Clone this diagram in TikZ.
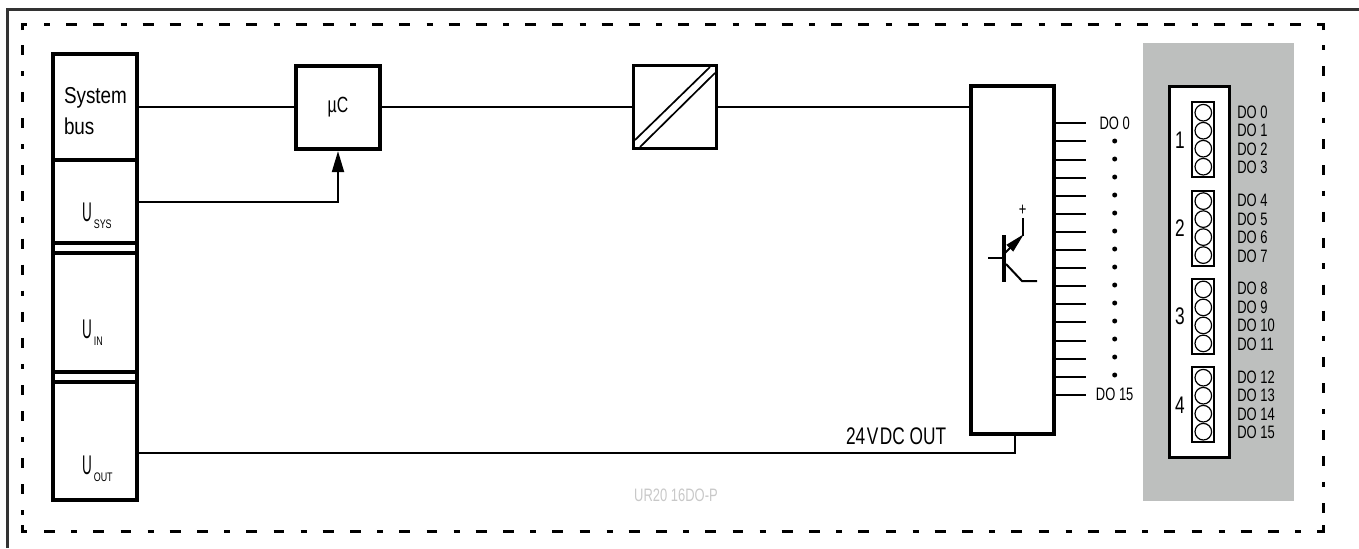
\documentclass[tikz,border=0pt]{standalone}
\usepackage{fontspec}
\setmainfont[FakeStretch=0.72]{Liberation Sans}
\newfontfamily\busfont[FakeStretch=0.82]{Liberation Sans}
\newfontfamily\voltfont[FakeStretch=0.5]{Liberation Sans}
\usetikzlibrary{arrows.meta}
\definecolor{panelgray}{HTML}{BDBFBE}
\definecolor{framegray}{HTML}{333333}
\definecolor{typegray}{HTML}{C8C8C8}
\newcommand{\supply}[1]{{\voltfont U}\raisebox{-3.7pt}{\fontsize{6.2}{6.2}\selectfont\,#1}}
\tikzset{
  block/.style={draw,line width=1.6pt,inner sep=0pt,outer sep=0pt},
  wire/.style={line width=1pt},
  outline/.style={line width=1.5pt},
  lbl/.style={inner sep=0pt,outer sep=0pt,font=\fontsize{11}{11}\selectfont},
  buslbl/.style={lbl,anchor=base west,font=\busfont\fontsize{11.5}{11.5}\selectfont},
  voltlbl/.style={lbl,anchor=base west,font=\fontsize{13.5}{13.5}\selectfont},
  small/.style={inner sep=0pt,outer sep=0pt,font=\fontsize{9}{9}\selectfont}
}
\begin{document}
\begin{tikzpicture}[x=0.5pt,y=-0.5pt,line join=miter]
\useasboundingbox (0,0) rectangle (1359,548);

% frame
\draw[line width=1.5pt,framegray] (7,548) -- (7,9) -- (1359,9);

% dashed outline
\coordinate (tl) at (22,24);
\coordinate (tr) at (1323,24);
\coordinate (bl) at (22,531);
\coordinate (br) at (1323,531);
\draw[outline,dash pattern=on 3pt off 8.1pt on 5.4pt off 8.1pt on 5.4pt off 8.25pt] (44,24) -- (tr);
\draw[outline,dash pattern=on 5.4pt off 8.1pt on 3pt off 8.1pt on 5.4pt off 8.25pt] (44,531) -- (br);
\draw[outline,dash pattern=on 5pt off 8pt on 2.6pt off 8pt on 5pt off 8pt] (22,45) -- (bl);
\draw[outline,dash pattern=on 2.6pt off 8pt on 5pt off 8pt on 5pt off 7.8pt] (1323,45) -- (br);
\draw[outline] (22,30) -- (tl) -- (27,24);
\draw[outline] (22,525) -- (bl) -- (27,531);
\draw[outline] (1323,30) -- (tr) -- (1317,24);
\draw[outline] (1323,525) -- (br) -- (1317,531);

% left column
\node[block,minimum width=42pt,minimum height=53pt] (sysbus) at (95,107) {};
\node[block,minimum width=42pt,minimum height=41.5pt] (usys) at (95,201.5) {};
\node[block,minimum width=42pt,minimum height=59.5pt] (uin) at (95,312.5) {};
\node[block,minimum width=42pt,minimum height=59pt] (uout) at (95,441) {};
\draw[line width=1.6pt] (usys.south west) -- (uin.north west);
\draw[line width=1.6pt] (usys.south east) -- (uin.north east);
\draw[line width=1.6pt] (uin.south west) -- (uout.north west);
\draw[line width=1.6pt] (uin.south east) -- (uout.north east);
\node[buslbl] at (64,103) {System};
\node[buslbl] at (64,134) {bus};
\node[voltlbl] at (82,221) {\supply{SYS}};
\node[voltlbl] at (82,338) {\supply{IN}};
\node[voltlbl] at (82,474) {\supply{OUT}};

% processing chain
\node[block,line width=2pt,minimum width=42pt,minimum height=41.5pt,lbl] (muc) at (338,107) {µC\hspace{3pt}};
\node[block,line width=1.8pt,minimum width=41.5pt,minimum height=41.5pt] (conv) at (675,107) {};
\draw[line width=0.85pt] (635,140) -- (710,67);
\draw[line width=0.85pt] (640,147) -- (715,73);
\node[block,line width=1.8pt,minimum width=41.5pt,minimum height=174pt] (outblock) at (1012.5,260) {};

\draw[wire] (sysbus.east) -- (muc.west);
\draw[wire] (muc.east) -- (conv.west);
\draw[wire] (conv.east) -- (conv.east -| outblock.west);
\draw[wire,-{Triangle[length=10.5pt,width=6pt]},shorten >=1.3pt] (usys.east) -| (muc.south);

% 24 V line
\coordinate (outbus) at (1015,453);
\draw[wire] (outbus -| uout.east) -- (outbus) -- (outbus |- outblock.south);
\node[lbl,anchor=base west,font=\fontsize{12}{12}\selectfont] (outlabel) at (846,444.5) {24\kern0.8pt V\kern0.8pt DC OUT};

% transistor
\draw[line width=1.8pt] (1004,235) -- (1004,282);
\draw[wire] (988,258) -- (1004,258);
\draw[wire,-{Triangle[length=10pt,width=4.5pt]}] (1005,253) -- (1024,234);
\draw[wire] (1022.7,236) -- (1022.7,218);
\draw[wire] (1006,264) -- (1022,281) -- (1037,281);
\node[small] at (1022.7,210) {+};

% outputs
\foreach \n in {0,...,15} {
  \draw[wire] (1054,123.3+18.1*\n) -- (1086,123.3+18.1*\n);
}
\foreach \n in {0,...,13} {
  \fill (1114.7,141+18*\n) circle (1.25pt);
}
\node[small] (do0) at (1114.7,123) {DO 0};
\node[small] (do15) at (1114.7,394) {DO 15};

% terminal panel
\fill[panelgray] (1143,43) rectangle (1294,501);
\node[block,fill=white,minimum width=30pt,minimum height=185.5pt] (terminal) at (1199.3,272) {};
\foreach \c/\top/\first in {1/102.3/0,2/190.7/4,3/279/8,4/367.3/12} {
  \node[draw,line width=1pt,inner sep=0pt,outer sep=0pt,minimum width=11.3pt,minimum height=37.5pt,anchor=north] (conn\c) at (1203,\top) {};
  \node[lbl,font=\fontsize{12}{12}\selectfont] (num\c) at (1180,\top+37.5) {\c};
  \foreach \k in {0,...,3} {
    \draw[line width=0.6pt] (1203.3,\top+10.4+18*\k) circle (4.15pt);
    \pgfmathtruncatemacro{\doidx}{\first+\k}
    \node[small,anchor=west] (pin\doidx) at (1237.3,\top+9.6+18.5*\k) {DO \doidx};
  }
}

% type
\node[small,text=typegray] (typelabel) at (676,495) {UR20 16DO-P};
\end{tikzpicture}
\end{document}
